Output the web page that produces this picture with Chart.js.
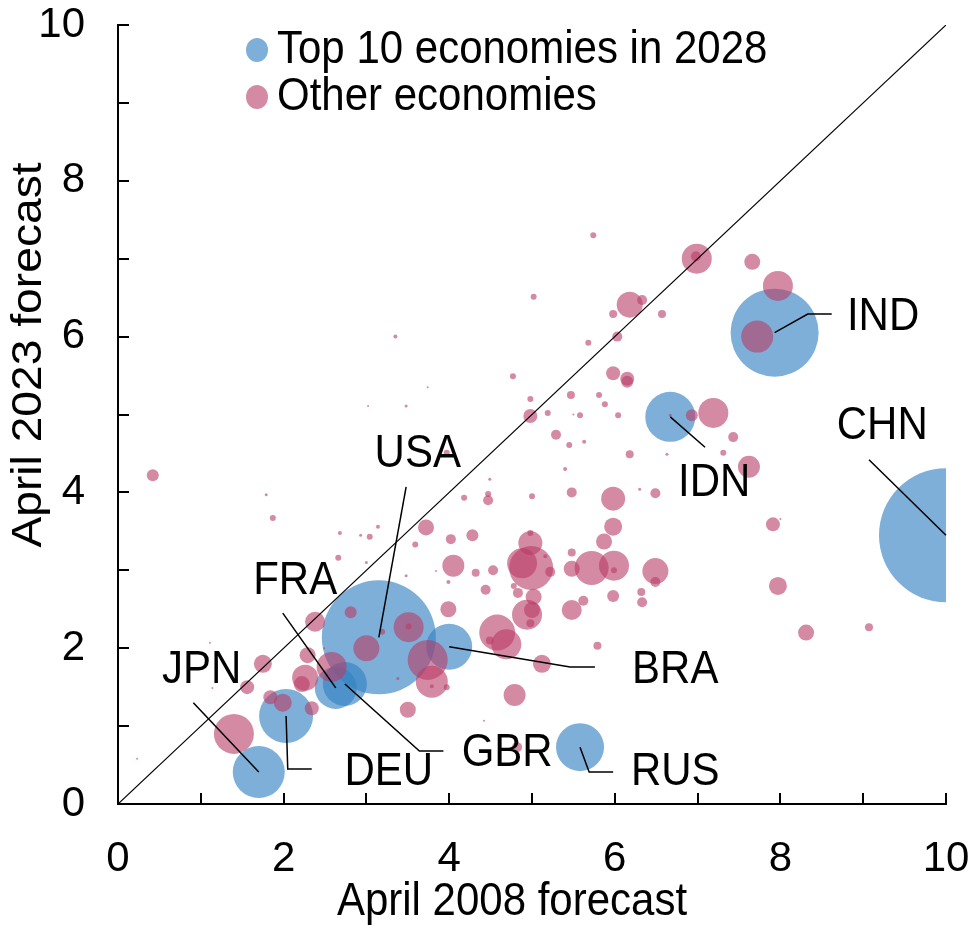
<!DOCTYPE html>
<html>
<head>
<meta charset="utf-8">
<script src="https://cdn.jsdelivr.net/npm/chart.js@4/dist/chart.umd.min.js"></script>
<style>
  body { margin: 0; background: #fff; }
</style>
</head>
<body>
<canvas id="chartForecasts" width="974" height="925"></canvas>
<script>
// Top 10 economies in 2028: April 2008 forecast (x), April 2023 forecast (y), bubble size (GDP)
const topNames = ['CHN', 'IND', 'IDN', 'USA', 'BRA', 'RUS', 'JPN', 'DEU', 'FRA', 'GBR'];
const topX = [10.0, 7.93, 6.67, 3.15, 4.00, 5.58, 1.70, 2.03, 2.63, 2.74];
const topY = [3.45, 6.05, 4.97, 2.14, 2.02, 0.73, 0.41, 1.13, 1.49, 1.54];
const topR = [67, 44, 25, 57, 23, 24, 26, 27, 21, 22];

// Other economies
const otherX = [
  0.42, 1.79, 1.87, 2.68, 2.93, 3.04, 3.14, 3.72, 2.66, 3.00, 3.59, 3.48, 3.74, 3.48,
  2.38, 2.81, 3.00, 3.51, 3.51, 3.19, 3.74, 3.79, 3.50, 1.75, 1.56, 2.29, 2.26, 2.22,
  2.58, 1.84, 1.99, 2.34, 1.40, 1.11, 1.14, 0.23, 2.49, 3.38, 3.79, 6.93, 7.19, 6.15,
  5.47, 5.81, 5.88, 4.98, 4.98, 5.19, 5.58, 5.50, 6.04, 5.29, 5.45, 5.63, 6.18, 5.40,
  7.31, 6.63, 5.98, 6.49, 6.30, 5.48, 5.00, 4.47, 4.47, 4.49, 4.18, 4.02, 4.28, 4.98,
  4.98, 4.88, 4.99, 5.16, 5.22, 5.48, 5.48, 5.72, 5.99, 5.99, 5.87, 5.98, 6.49, 6.49,
  6.32, 6.33, 5.98, 5.62, 5.48, 5.02, 4.94, 5.00, 4.98, 4.83, 4.78, 4.53, 4.32, 4.05,
  3.84, 3.99, 4.44, 3.99, 4.58, 4.69, 4.49, 5.12, 5.79, 4.79, 4.42, 4.82, 3.97, 5.74,
  6.99, 6.98, 7.66, 7.97, 6.18, 6.33, 5.98, 6.57, 6.03, 5.68, 5.02, 7.72, 5.98, 6.15,
  4.77, 7.43, 7.62, 7.91, 8.00, 7.97, 8.31, 9.07, 3.35, 3.02, 3.97, 6.67
];
const otherY = [
  4.22, 3.97, 3.67, 3.48, 3.45, 3.43, 3.56, 3.55, 3.16, 3.10, 3.33, 2.93, 5.35, 5.11,
  2.34, 2.46, 2.00, 2.27, 2.28, 2.21, 1.85, 1.57, 1.21, 1.80, 1.50, 1.91, 1.62, 1.54,
  1.76, 1.37, 1.30, 1.23, 0.90, 2.07, 1.49, 0.58, 2.00, 1.61, 1.51, 4.99, 5.02, 5.42,
  5.25, 5.25, 5.13, 5.20, 4.98, 5.02, 4.99, 5.00, 4.99, 4.74, 4.61, 4.65, 4.49, 4.30,
  4.51, 4.49, 3.92, 3.99, 4.04, 4.00, 3.95, 3.98, 3.90, 4.17, 3.93, 3.40, 3.45, 3.35,
  3.48, 3.09, 3.03, 3.18, 2.98, 3.23, 3.02, 3.03, 3.06, 3.00, 3.37, 3.56, 2.99, 2.85,
  2.72, 2.59, 2.67, 2.61, 2.49, 2.66, 2.43, 2.49, 2.32, 2.71, 2.80, 3.00, 2.97, 3.06,
  2.99, 2.85, 2.75, 2.50, 2.20, 2.05, 2.10, 1.80, 2.03, 1.40, 1.07, 0.73, 1.50, 7.30,
  7.00, 7.03, 6.96, 6.65, 6.41, 6.47, 6.29, 6.29, 6.00, 5.92, 6.51, 6.00, 5.53, 5.46,
  5.49, 4.71, 4.33, 3.59, 3.66, 2.80, 2.20, 2.27, 6.00, 5.11, 4.51, 4.99
];
const otherR = [
  6, 1.5, 3, 2, 1.5, 3, 2, 8, 3, 1.5, 3, 1.5, 1, 1.5,
  10, 6, 13, 15, 3, 3, 20, 16, 8, 9, 7, 8, 13, 8,
  15, 7, 9, 7, 20, 1, 1, 1, 1, 1.5, 2, 6, 15, 6,
  4, 3, 3, 3, 7, 3, 3, 1, 3, 5, 3, 2, 4, 2,
  3, 1.5, 12, 5, 1.5, 5, 3, 3, 5, 1.5, 3, 5, 6, 12,
  3, 15, 22, 2, 5, 4, 8, 17, 15, 3, 8, 9, 13, 5,
  4, 5, 6, 5, 10, 8, 15, 8, 4, 5, 3, 5, 4, 11,
  1, 2, 5, 8, 18, 15, 4, 9, 4, 11, 1, 5, 3, 3,
  15, 5, 8, 15, 13, 5, 4, 4, 5, 3, 3, 16, 7, 7,
  3, 5, 11, 7, 1, 9, 8, 4, 2, 1, 3, 1.5
];

// Ends of the 45-degree reference line
const parityLine = [0, 10];

// Callout labels: text centre and leader bend points, in axis units
const callouts = [
  { name: 'CHN', text: [9.23, 4.84], path: [[9.07, 4.42]] },
  { name: 'IND', text: [9.24, 6.25], path: [[8.33, 6.29], [8.62, 6.29]] },
  { name: 'IDN', text: [7.20, 4.12], path: [[7.09, 4.58]] },
  { name: 'USA', text: [3.62, 4.49], path: [[3.48, 4.07]] },
  { name: 'BRA', text: [6.73, 1.72], path: [[5.46, 1.76], [5.76, 1.76]] },
  { name: 'RUS', text: [6.73, 0.41], path: [[5.69, 0.41], [5.98, 0.41]] },
  { name: 'JPN', text: [1.01, 1.72], path: [[0.91, 1.30]] },
  { name: 'DEU', text: [3.27, 0.41], path: [[2.05, 0.45], [2.34, 0.45]] },
  { name: 'FRA', text: [2.14, 2.85], path: [[1.99, 2.45]] },
  { name: 'GBR', text: [4.70, 0.65], path: [[3.64, 0.68], [3.93, 0.68]] }
];

const FONT = '"Liberation Sans", Arial, sans-serif';
const BLUE = 'rgba(52, 130, 194, 0.64)';
const PINK = 'rgba(185, 60, 102, 0.6)';
const TALL = 1.08; // text is drawn slightly taller than wide

const toBubbles = (xs, ys, rs) => xs.map((x, i) => ({ x: x, y: ys[i], r: rs[i] }));

// fillText with a vertical stretch around the anchor point
function tallText(ctx, str, px, py) {
  ctx.save();
  ctx.translate(px, py);
  ctx.scale(1, TALL);
  ctx.fillText(str, 0, 0);
  ctx.restore();
}

// Inward ticks, callouts, legend and axis titles
const decorations = {
  id: 'decorations',
  afterDatasetsDraw(chart) {
    const { ctx, chartArea, scales: { x, y } } = chart;
    ctx.save();

    ctx.strokeStyle = '#000';
    ctx.lineWidth = 2;
    ctx.beginPath();
    for (let v = 1; v <= 10; v++) {
      const px = Math.round(x.getPixelForValue(v));
      ctx.moveTo(px, chartArea.bottom);
      ctx.lineTo(px, chartArea.bottom - 11);
      const py = Math.round(y.getPixelForValue(v));
      ctx.moveTo(chartArea.left, py);
      ctx.lineTo(chartArea.left + 11, py);
    }
    ctx.stroke();

    ctx.lineWidth = 1.5;
    ctx.fillStyle = '#000';
    ctx.font = '42px ' + FONT;
    ctx.textAlign = 'center';
    ctx.textBaseline = 'middle';
    callouts.forEach(c => {
      const i = topNames.indexOf(c.name);
      const pts = [[topX[i], topY[i]]].concat(c.path);
      ctx.beginPath();
      pts.forEach(([vx, vy], k) => {
        const px = x.getPixelForValue(vx);
        const py = y.getPixelForValue(vy);
        if (k) ctx.lineTo(px, py); else ctx.moveTo(px, py);
      });
      ctx.stroke();
      tallText(ctx, c.name, x.getPixelForValue(c.text[0]), y.getPixelForValue(c.text[1]));
    });
    ctx.restore();
  },
  afterDraw(chart) {
    const { ctx } = chart;
    ctx.save();
    ctx.font = '42px ' + FONT;
    ctx.fillStyle = '#000';
    ctx.textBaseline = 'middle';

    // legend
    const items = chart.data.datasets.filter(d => d.type !== 'line');
    items.forEach((d, k) => {
      const cy = 50 + k * 47;
      ctx.fillStyle = d.backgroundColor;
      ctx.beginPath();
      ctx.ellipse(257, cy, 11, 12, 0, 0, Math.PI * 2);
      ctx.fill();
      ctx.fillStyle = '#000';
      ctx.textAlign = 'left';
      tallText(ctx, d.label, 277, cy);
    });

    // axis titles
    ctx.textAlign = 'center';
    tallText(ctx, 'April 2008 forecast', 512, 902);
    ctx.translate(29, 355);
    ctx.rotate(-Math.PI / 2);
    ctx.scale(1.1, 1);
    ctx.fillText('April 2023 forecast', 0, 0);
    ctx.restore();
  }
};

new Chart(document.getElementById('chartForecasts'), {
  type: 'bubble',
  data: {
    datasets: [
      {
        label: 'Top 10 economies in 2028',
        data: toBubbles(topX, topY, topR),
        backgroundColor: BLUE,
        borderWidth: 0,
        order: 2
      },
      {
        label: 'Other economies',
        data: toBubbles(otherX, otherY, otherR),
        backgroundColor: PINK,
        borderWidth: 0,
        order: 1
      },
      {
        type: 'line',
        label: '45-degree line',
        data: parityLine.map(v => ({ x: v, y: v })),
        borderColor: '#000',
        borderWidth: 1.2,
        pointRadius: 0,
        order: 0
      }
    ]
  },
  options: {
    responsive: false,
    devicePixelRatio: 1,
    animation: false,
    layout: { autoPadding: false, padding: { top: 25, right: 28, left: 0, bottom: 0 } },
    plugins: {
      legend: { display: false },
      tooltip: { enabled: false }
    },
    scales: {
      x: {
        type: 'linear',
        min: 0,
        max: 10,
        ticks: { stepSize: 2, color: '#000', font: { family: FONT, size: 42 }, padding: 30, maxRotation: 0 },
        grid: { display: true, drawOnChartArea: false, drawTicks: false },
        border: { color: '#000', width: 2 },
        afterFit: s => {
          s.height = 121;
          s.paddingLeft = 0;
          s.paddingRight = 0;
        }
      },
      y: {
        type: 'linear',
        min: 0,
        max: 10,
        ticks: { stepSize: 2, color: '#000', font: { family: FONT, size: 42 }, padding: 33 },
        grid: { display: true, drawOnChartArea: false, drawTicks: false },
        border: { color: '#000', width: 2 },
        afterFit: s => {
          s.width = 118;
          s.paddingTop = 0;
          s.paddingBottom = 0;
        }
      }
    }
  },
  plugins: [decorations]
});
</script>
</body>
</html>
